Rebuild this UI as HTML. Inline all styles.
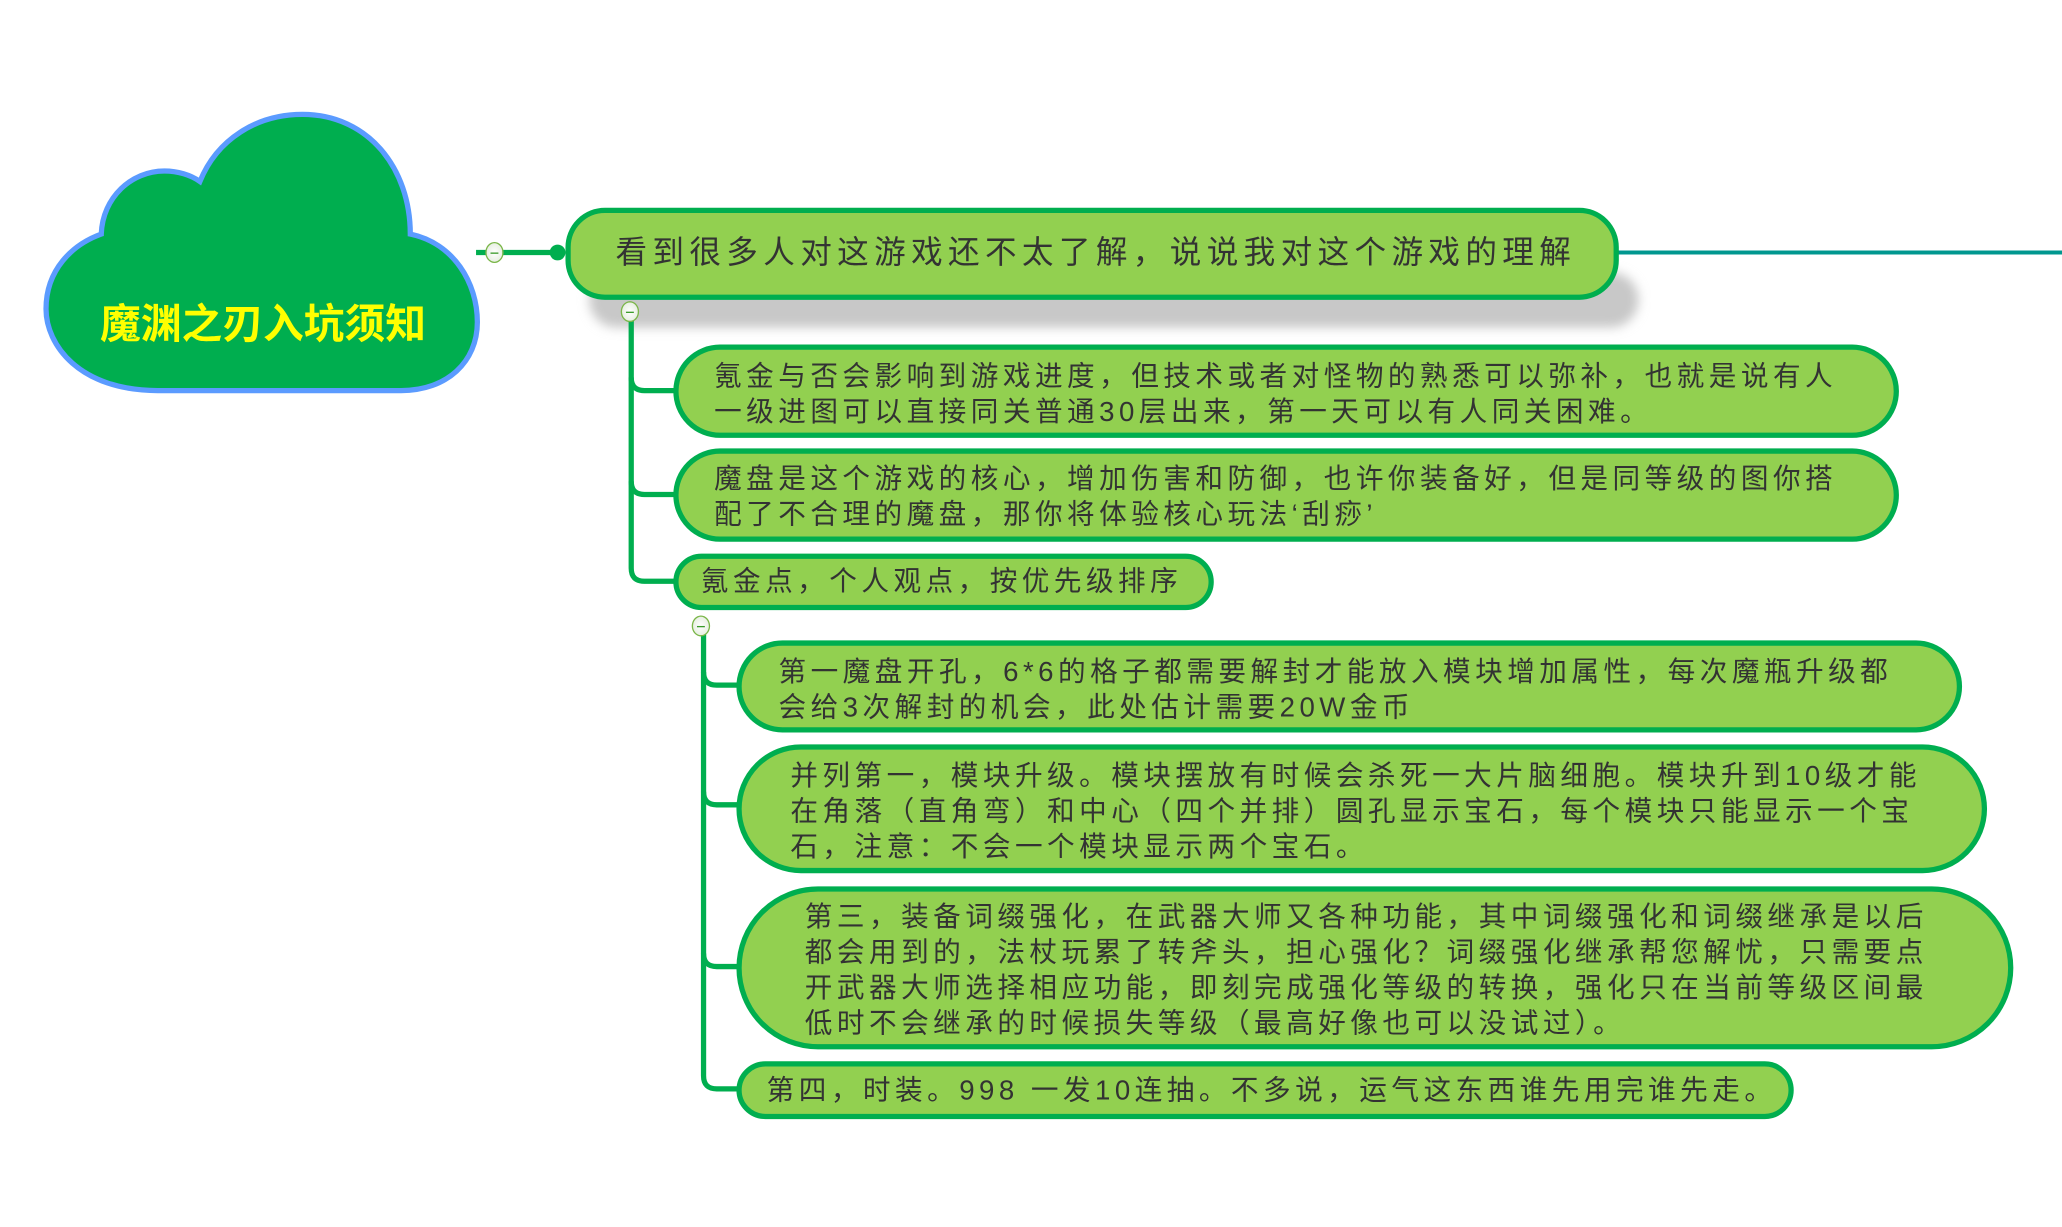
<!DOCTYPE html>
<html><head><meta charset="utf-8"><style>
html,body{margin:0;padding:0;background:#fff;width:2062px;height:1226px;overflow:hidden}
#s{position:absolute;left:0;top:0;width:1568px;height:933px;transform:scale(1.31505);transform-origin:0 0}
.n{position:absolute;box-sizing:border-box;background:#92d050;border:4.5px solid #00ae4f;color:#333;font-family:"Liberation Sans","Noto Sans CJK SC",sans-serif;font-size:21px;letter-spacing:3.4px;line-height:27px;white-space:nowrap}
.n span{position:absolute}
.c{position:absolute;width:14px;height:16px;border-radius:50%;background:radial-gradient(#fff,#dfe9d8);border:1px solid #7ab648;box-sizing:border-box}
.c:after{content:"";position:absolute;left:3px;right:3px;top:6.5px;height:1px;background:#3a9a2a}
</style></head><body><div id="s">
<svg width="1568" height="933" style="position:absolute;left:0;top:0">
<defs><filter id="b" x="-5%" y="-50%" width="110%" height="200%"><feGaussianBlur stdDeviation="4"/></filter></defs>
<path d="M120 297 C60 297 35 262 35 235 C35 205 55 186 77 178 C78 150 100 130 125 130 C135 130 145 133 152 138 C165 106 195 87 230 87 C280 87 312 128 312 178 C345 185 363 215 363 245 C363 275 340 297 305 297 Z" fill="#00ae4f" stroke="#5b9bff" stroke-width="4"/>
<text x="200" y="257" text-anchor="middle" fill="#ffff00" font-family="Liberation Sans,Noto Sans CJK SC,sans-serif" font-weight="bold" font-size="31">魔渊之刃入坑须知</text>
<line x1="362" y1="192" x2="428" y2="192" stroke="#00ae4f" stroke-width="4"/>
<circle cx="424" cy="192" r="6" fill="#00ae4f"/>
<line x1="1228" y1="192" x2="1568" y2="192" stroke="#00978f" stroke-width="3"/>
<rect x="448" y="207" width="798" height="42" rx="21" fill="#c8c8c8" filter="url(#b)"/>
<g fill="none" stroke="#00ae4f" stroke-width="4">
<path d="M480 237 V432 Q480 442 490 442 H515"/>
<path d="M480 287 Q480 297 490 297 H515"/>
<path d="M480 366 Q480 376 490 376 H515"/>
<path d="M535 476 V818 Q535 828 545 828 H565"/>
<path d="M535 511 Q535 521 545 521 H565"/>
<path d="M535 602 Q535 612 545 612 H565"/>
<path d="M535 725 Q535 735 545 735 H565"/>
</g>
</svg>
<div class="n" style="left:430px;top:158px;width:801px;height:70px;border-radius:30px;font-size:24px;letter-spacing:4.1px"><span style="left:34px;top:17px">看到很多人对这游戏还不太了解，说说我对这个游戏的理解</span></div>
<div class="n" style="left:512px;top:262px;width:932px;height:71px;border-radius:36px"><span style="left:27px;top:7px">氪金与否会影响到游戏进度，但技术或者对怪物的熟悉可以弥补，也就是说有人<br>一级进图可以直接同关普通30层出来，第一天可以有人同关困难。</span></div>
<div class="n" style="left:512px;top:341px;width:932px;height:71px;border-radius:36px"><span style="left:27px;top:6px">魔盘是这个游戏的核心，增加伤害和防御，也许你装备好，但是同等级的图你搭<br>配了不合理的魔盘，那你将体验核心玩法‘刮痧’</span></div>
<div class="n" style="left:512px;top:421px;width:411px;height:43px;border-radius:22px"><span style="left:17px;top:4px">氪金点，个人观点，按优先级排序</span></div>
<div class="n" style="left:560px;top:487px;width:932px;height:70px;border-radius:36px"><span style="left:28px;top:7px">第一魔盘开孔，6*6的格子都需要解封才能放入模块增加属性，每次魔瓶升级都<br>会给3次解封的机会，此处估计需要20W金币</span></div>
<div class="n" style="left:560px;top:566px;width:951px;height:98px;border-radius:50px"><span style="left:37px;top:7px">并列第一，模块升级。模块摆放有时候会杀死一大片脑细胞。模块升到10级才能<br>在角落（直角弯）和中心（四个并排）圆孔显示宝石，每个模块只能显示一个宝<br>石，注意：不会一个模块显示两个宝石。</span></div>
<div class="n" style="left:560px;top:674px;width:971px;height:124px;border-radius:62px"><span style="left:48px;top:6px">第三，装备词缀强化，在武器大师又各种功能，其中词缀强化和词缀继承是以后<br>都会用到的，法杖玩累了转斧头，担心强化？词缀强化继承帮您解忧，只需要点<br>开武器大师选择相应功能，即刻完成强化等级的转换，强化只在当前等级区间最<br>低时不会继承的时候损失等级（最高好像也可以没试过）。</span></div>
<div class="n" style="left:560px;top:807px;width:804px;height:44px;border-radius:22px"><span style="left:19px;top:5px">第四，时装。998 一发10连抽。不多说，运气这东西谁先用完谁先走。</span></div>
<div class="c" style="left:369px;top:184px"></div>
<div class="c" style="left:472px;top:229px"></div>
<div class="c" style="left:526px;top:468px"></div>
</div></body></html>
